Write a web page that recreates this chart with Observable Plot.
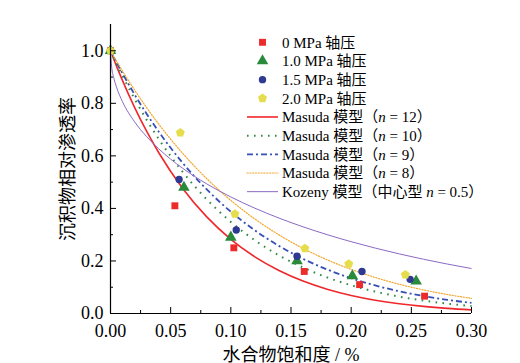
<!DOCTYPE html>
<html><head><meta charset="utf-8">
<script src="https://cdn.jsdelivr.net/npm/d3@7"></script>
<script src="https://cdn.jsdelivr.net/npm/@observablehq/plot@0.6"></script>
<style>body{margin:0;background:#fff}</style>
</head><body><div id="chart"></div>
<script>
// ---- measured points ----
const seriesNames = ["0 MPa 轴压", "1.0 MPa 轴压", "1.5 MPa 轴压", "2.0 MPa 轴压"];
const x0 = [0, 0.0535, 0.1025, 0.161, 0.207, 0.261];
const y0 = [1.0, 0.41, 0.25, 0.16, 0.11, 0.066];
const x1 = [0, 0.061, 0.100, 0.155, 0.201, 0.254];
const y1 = [1.0, 0.48, 0.29, 0.20, 0.143, 0.123];
const x2 = [0, 0.057, 0.1045, 0.155, 0.209, 0.249];
const y2 = [1.0, 0.51, 0.318, 0.218, 0.16, 0.13];
const x3 = [0, 0.058, 0.1034, 0.1615, 0.198, 0.245];
const y3 = [1.0, 0.688, 0.379, 0.248, 0.189, 0.148];

// ---- model curves ----
const curvePrefix = ["Masuda 模型（", "Masuda 模型（", "Masuda 模型（", "Masuda 模型（", "Kozeny 模型（中心型 "];
const curveSuffix = [" = 12）", " = 10）", " = 9）", " = 8）", " = 0.5）"];
const mX = [0, 0.005, 0.01, 0.02, 0.03, 0.04, 0.06, 0.08, 0.10, 0.12, 0.14, 0.16, 0.18, 0.20, 0.22, 0.24, 0.26, 0.28, 0.30];
const m12 = [1, 0.94162, 0.88638, 0.78472, 0.69384, 0.61271, 0.47592, 0.36767, 0.28243, 0.21567, 0.16367, 0.12341, 0.09242, 0.06872, 0.05071, 0.03713, 0.02696, 0.01941, 0.01384];
const m10 = [1, 0.95111, 0.90438, 0.81707, 0.73742, 0.66483, 0.53862, 0.43439, 0.34868, 0.27850, 0.22130, 0.17490, 0.13745, 0.10737, 0.08337, 0.06429, 0.04924, 0.03744, 0.02825];
const m9 = [1, 0.95589, 0.91352, 0.83375, 0.76023, 0.69253, 0.57300, 0.47216, 0.38742, 0.31648, 0.25733, 0.20821, 0.16762, 0.13422, 0.10688, 0.08459, 0.06654, 0.05200, 0.04035];
const m8 = [1, 0.96069, 0.92275, 0.85077, 0.78374, 0.72139, 0.60957, 0.51322, 0.43047, 0.35964, 0.29922, 0.24787, 0.20441, 0.16777, 0.13703, 0.11130, 0.08992, 0.07222, 0.05765];
const kX = [0, 0.001, 0.0025, 0.005, 0.01, 0.02, 0.03, 0.04, 0.06, 0.08, 0.10, 0.12, 0.14, 0.16, 0.18, 0.20, 0.22, 0.24, 0.26, 0.28, 0.30];
const kY = [1, 0.93729, 0.90137, 0.86142, 0.80594, 0.72975, 0.67326, 0.62707, 0.55273, 0.49331, 0.44355, 0.40073, 0.36322, 0.32995, 0.30016, 0.27331, 0.24898, 0.22684, 0.20662, 0.18812, 0.17114];

// ---- ticks ----
const xTicks = [0, 0.05, 0.10, 0.15, 0.20, 0.25, 0.30];
const xMinor = [0.025, 0.075, 0.125, 0.175, 0.225, 0.275];
const yTicks = [0, 0.2, 0.4, 0.6, 0.8, 1.0];
const yMinor = [0.1, 0.3, 0.5, 0.7, 0.9];

// styles
const ptColors = ["#ec2b2b", "#2a8a3c", "#2e3a92", "#e6dd4c"];
const lineColors = ["#f0272b", "#2e8b45", "#3550b4", "#f0a830", "#8a6ac4"];
const lineWidths = [1.6, 2, 1.8, 1.2, 1];
const lineDash = [null, "1.6 5.4", "6 3 2 3", "1.2 1.6", null];
const lineCaps = ["butt", "butt", "butt", "round", "butt"];

const pentagon = {
  draw(ctx, size) {
    const R = Math.sqrt(size / Math.PI) * 1.15;
    for (let i = 0; i < 5; i++) {
      const a = -Math.PI / 2 + i * 2 * Math.PI / 5;
      const px = R * Math.cos(a), py = R * Math.sin(a);
      if (i === 0) ctx.moveTo(px, py); else ctx.lineTo(px, py);
    }
    ctx.closePath();
  }
};
const symbols = [d3.symbolSquare, d3.symbolTriangle, d3.symbolCircle, pentagon];
const radii = [3.9, 4.3, 3.7, 4.1];

const xs = [x0, x1, x2, x3], ys = [y0, y1, y2, y3];
const curves = [[mX, m12], [mX, m10], [mX, m9], [mX, m8], [kX, kY]];

const FONT = '"Liberation Serif", "Times New Roman", "Noto Sans CJK SC", serif';

const marks = [];
curves.forEach(([cx, cy], i) => {
  const data = cx.map((v, j) => ({x: v, y: cy[j]}));
  marks.push(Plot.line(data, {x: "x", y: "y", stroke: lineColors[i], strokeWidth: lineWidths[i],
    strokeDasharray: lineDash[i], strokeLinecap: lineCaps[i], curve: "monotone-x"}));
});
xs.forEach((xa, i) => {
  const data = xa.map((v, j) => ({x: v, y: ys[i][j]}));
  marks.push(Plot.dot(data, {x: "x", y: "y", symbol: () => symbols[i], r: radii[i], fill: ptColors[i], stroke: "none"}));
});
marks.push(
  Plot.axisX({ticks: xTicks, tickSize: -6, tickPadding: 17, tickFormat: d3.format(".2f"), fontSize: 18,
    label: "水合物饱和度 / %", labelAnchor: "center", labelArrow: "none", labelOffset: 47}),
  Plot.axisX({ticks: xMinor, tickSize: -3, tickFormat: () => "", label: null}),
  Plot.axisY({ticks: yTicks, tickSize: -6, tickPadding: 13, tickFormat: d3.format(".1f"), fontSize: 18,
    label: "沉积物相对渗透率", labelAnchor: "center", labelArrow: "none", labelOffset: 49}),
  Plot.axisY({ticks: yMinor, tickSize: -3, tickFormat: () => "", label: null}),
  Plot.ruleX([0], {stroke: "black", strokeWidth: 1.2}),
  Plot.ruleY([0], {stroke: "black", strokeWidth: 1.2})
);

const chart = Plot.plot({
  width: 520, height: 363,
  marginLeft: 110, marginRight: 49, marginTop: 24, marginBottom: 50,
  x: {domain: [0, 0.3]},
  y: {domain: [0, 1.1]},
  style: {fontFamily: FONT, fontSize: "18px", color: "black", background: "white"},
  marks
});
document.getElementById("chart").appendChild(chart);

// ---- legend ----
const svg = d3.select(chart);
const lg = svg.append("g").attr("font-size", 15).attr("text-anchor", "start");
const rowY = i => 42.3 + i * 18.67;
seriesNames.forEach((name, i) => {
  const y = rowY(i);
  lg.append("path").attr("transform", `translate(262.5,${y})`)
    .attr("d", d3.symbol(symbols[i], Math.PI * radii[i] * radii[i])()).attr("fill", ptColors[i]);
  lg.append("text").attr("x", 282).attr("y", y).attr("dy", "0.35em").text(name);
});
curvePrefix.forEach((pre, k) => {
  const i = k + 4, y = rowY(i);
  lg.append("line").attr("x1", 247).attr("x2", 278).attr("y1", y).attr("y2", y)
    .attr("stroke", lineColors[k]).attr("stroke-width", lineWidths[k])
    .attr("stroke-dasharray", lineDash[k]).attr("stroke-linecap", lineCaps[k]);
  const t = lg.append("text").attr("x", 282).attr("y", y).attr("dy", "0.35em");
  t.append("tspan").text(pre);
  t.append("tspan").attr("font-style", "italic").text("n");
  t.append("tspan").text(curveSuffix[k]);
});
svg.selectAll("text").style("font-family", FONT).style("font-variant", "normal");
</script>
</body></html>
